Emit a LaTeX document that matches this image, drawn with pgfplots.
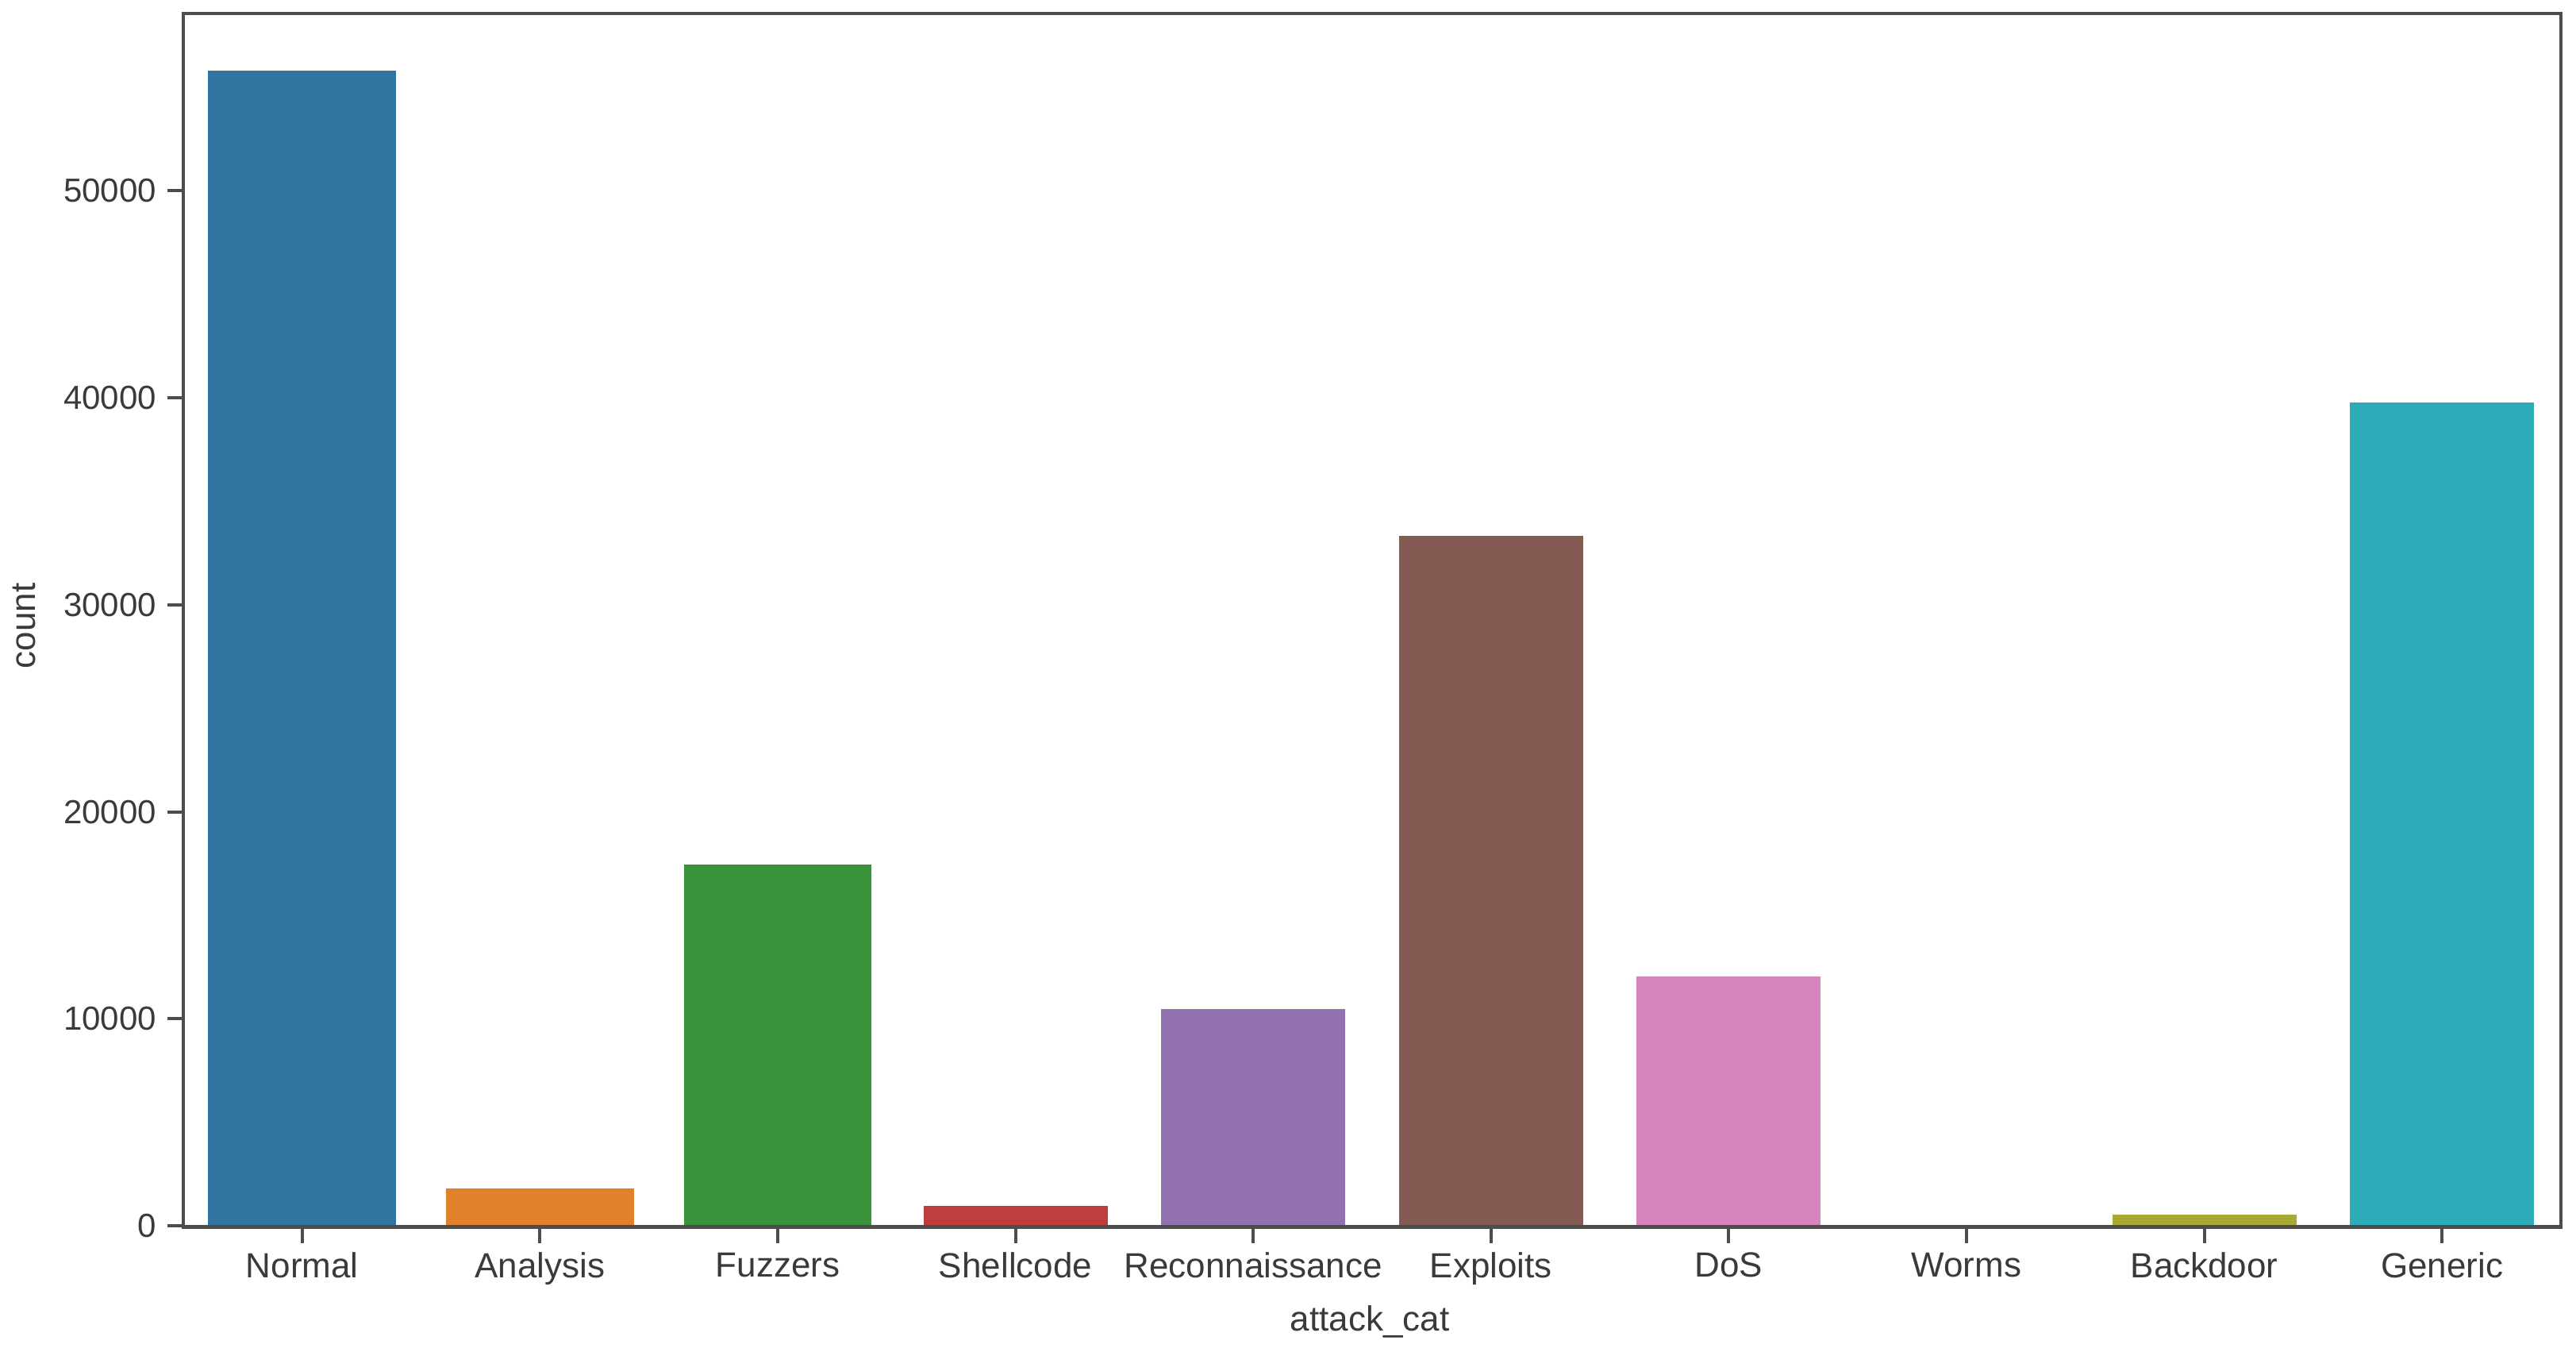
\documentclass[border=0pt]{standalone}
\usepackage{pgfplots}
\pgfplotsset{compat=1.18}
\usepackage{fontspec}
\setmainfont{Liberation Sans}
\definecolor{txt}{HTML}{3A3A3A}
\definecolor{spine}{HTML}{4D4D4D}
\definecolor{c0}{HTML}{3274A1}
\definecolor{c1}{HTML}{E1812C}
\definecolor{c2}{HTML}{3A923A}
\definecolor{c3}{HTML}{C03D3E}
\definecolor{c4}{HTML}{9372B2}
\definecolor{c5}{HTML}{845B53}
\definecolor{c6}{HTML}{D684BD}
\definecolor{c7}{HTML}{7F7F7F}
\definecolor{c8}{HTML}{A9AA35}
\definecolor{c9}{HTML}{2EABB8}
\begin{document}
\begin{tikzpicture}
\useasboundingbox (-57.75pt,-38pt) rectangle (753.75pt,386.5pt);
\begin{axis}[
  at={(0pt,0pt)}, anchor=south west,
  scale only axis, width=749pt, height=382.25pt,
  xmin=-0.5, xmax=9.5, ymin=-70, ymax=58570,
  xtick={0,...,9},
  xticklabels={Normal,Analysis,Fuzzers,Shellcode,Reconnaissance,Exploits,DoS,Worms,Backdoor,Generic},
  ytick={0,10000,20000,30000,40000,50000},
  scaled y ticks=false,
  /pgf/number format/assume math mode=true,
  yticklabel={\pgfmathprintnumber[fixed,1000 sep={},assume math mode=true]{\tick}},
  tick align=outside, tick pos=left,
  major tick length=5pt,
  tick style={color=spine,line width=1pt},
  axis line style={color=spine,line width=1pt},
  axis on top=true,
  ticklabel style={font=\fontsize{10.5}{12}\selectfont,text=txt},
  xticklabel style={font=\fontsize{11}{12}\selectfont,yshift=0.5pt},
  xlabel={attack\_cat}, ylabel={count},
  label style={font=\fontsize{11}{12}\selectfont,text=txt},
  xlabel style={yshift=0.5pt,xshift=-0.75pt},
  ylabel style={yshift=2pt,xshift=-1.75pt},
  ybar, bar shift=0pt,
  every axis plot/.append style={draw=none},
  clip=true,
]
\addplot[fill=c0,bar width=0.79] coordinates {(0,55800)};
\addplot[fill=c1,bar width=0.79] coordinates {(1,1825)};
\addplot[fill=c2,bar width=0.79] coordinates {(2,17460)};
\addplot[fill=c3,bar width=0.775] coordinates {(3,950)};
\addplot[fill=c4,bar width=0.775] coordinates {(4,10480)};
\addplot[fill=c5,bar width=0.775] coordinates {(5,33330)};
\addplot[fill=c6,bar width=0.775] coordinates {(6,12060)};
\addplot[fill=c7,bar width=0.775] coordinates {(7,60)};
\addplot[fill=c8,bar width=0.775] coordinates {(8,550)};
\addplot[fill=c9,bar width=0.775] coordinates {(9,39760)};
\draw[spine,line width=1.25pt] (axis cs:-0.5,-70) -- (axis cs:9.5,-70);
\draw[spine,line width=1.25pt] (axis cs:-0.5,58570) -- (axis cs:9.5,58570);
\end{axis}
\end{tikzpicture}
\end{document}
